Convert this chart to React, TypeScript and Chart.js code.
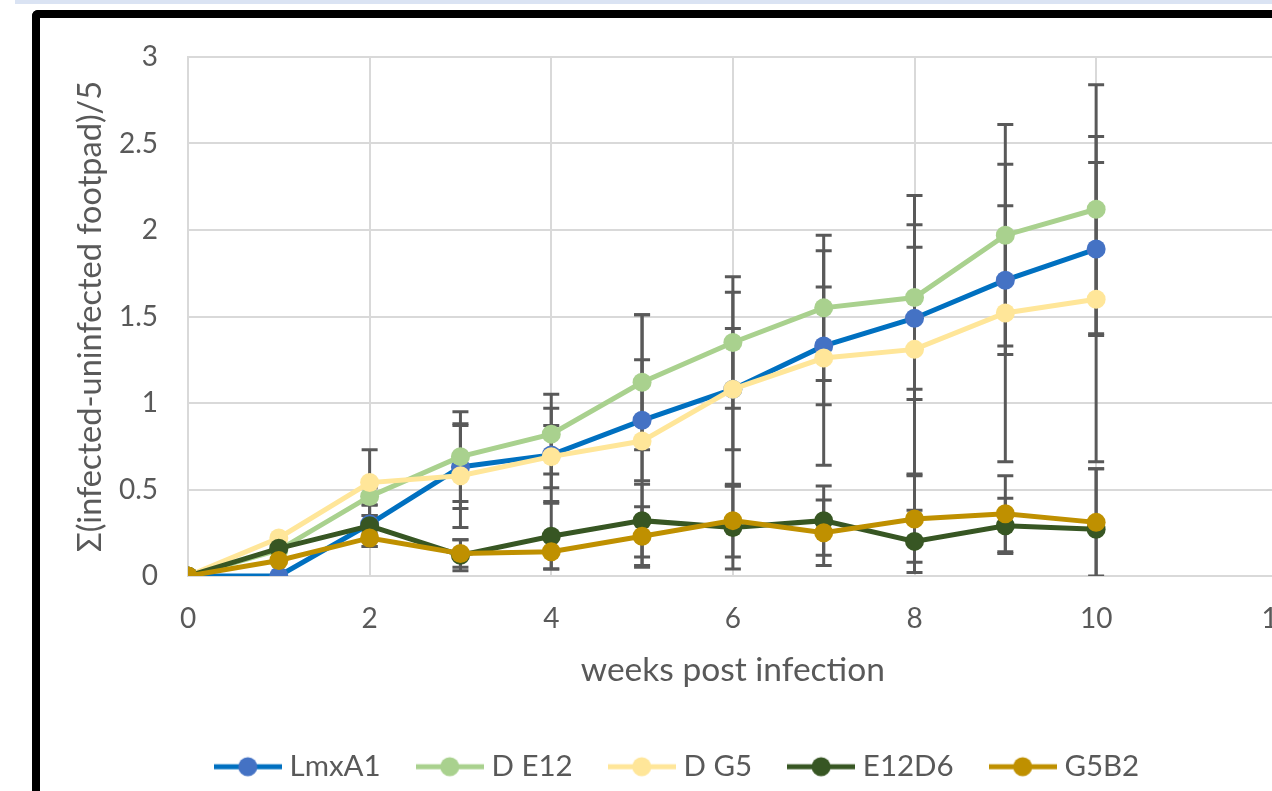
import React, { useEffect, useRef } from "react";
import { Chart, registerables } from "chart.js";

Chart.register(...registerables);

const weeks = [0, 1, 2, 3, 4, 5, 6, 7, 8, 9, 10];
const xTicks = [0, 2, 4, 6, 8, 10, 12];

const seriesNames = ["LmxA1", "D E12", "D G5", "E12D6", "G5B2"];

const lmxA1 = [0, 0, 0.30, 0.63, 0.70, 0.90, 1.08, 1.33, 1.49, 1.71, 1.89];
const dE12 = [0, 0.15, 0.46, 0.69, 0.82, 1.12, 1.35, 1.55, 1.61, 1.97, 2.12];
const dG5 = [0, 0.22, 0.54, 0.58, 0.69, 0.78, 1.08, 1.26, 1.31, 1.52, 1.60];
const e12D6 = [0, 0.16, 0.29, 0.12, 0.23, 0.32, 0.28, 0.32, 0.20, 0.29, 0.27];
const g5B2 = [0, 0.09, 0.22, 0.13, 0.14, 0.23, 0.32, 0.25, 0.33, 0.36, 0.31];

const lmxA1Err = [0, 0, 0.05, 0.24, 0.27, 0.35, 0.35, 0.34, 0.41, 0.43, 0.50];
const dE12Err = [0, 0, 0.05, 0.26, 0.23, 0.39, 0.38, 0.42, 0.59, 0.64, 0.72];
const dG5Err = [0, 0, 0.19, 0.30, 0.18, 0.73, 0.56, 0.62, 0.72, 0.86, 0.94];
const e12D6Err = [0, 0, 0.12, 0.09, 0.19, 0.21, 0.24, 0.20, 0.18, 0.16, 0.35];
const g5B2Err = [0, 0, 0.05, 0.08, 0.10, 0.17, 0.21, 0.19, 0.25, 0.22, 0.31];

const lineColors = ["#0070C0", "#A9D18E", "#FFE699", "#375623", "#BF9000"];
const markerColors = ["#4472C4", "#A9D18E", "#FFE699", "#375623", "#BF9000"];

const FONT = "Lato";
const TEXT = "#595959";

function makeIcon(line: string, marker: string) {
  const c = document.createElement("canvas");
  c.width = 68;
  c.height = 22;
  const g = c.getContext("2d")!;
  g.strokeStyle = line;
  g.lineWidth = 5;
  g.beginPath();
  g.moveTo(0, 11);
  g.lineTo(68, 11);
  g.stroke();
  g.fillStyle = marker;
  g.beginPath();
  g.arc(34, 11, 9.5, 0, Math.PI * 2);
  g.fill();
  return c;
}

const errorBarPlugin = {
  id: "errorBars",
  beforeDatasetsDraw(chart: any) {
    const { ctx, chartArea, scales } = chart;
    const xs = scales.x;
    const ys = scales.y;
    ctx.save();
    ctx.beginPath();
    ctx.rect(chartArea.left, chartArea.top, chartArea.right - chartArea.left, chartArea.bottom - chartArea.top);
    ctx.clip();
    ctx.strokeStyle = "#595959";
    ctx.lineWidth = 3;
    chart.data.datasets.forEach((ds: any) => {
      const errs: number[] = ds.errors;
      if (!errs) return;
      ds.data.forEach((pt: any, i: number) => {
        const e = errs[i];
        if (!e) return;
        const px = xs.getPixelForValue(pt.x);
        const yT = ys.getPixelForValue(pt.y + e);
        const yB = ys.getPixelForValue(pt.y - e);
        ctx.beginPath();
        ctx.moveTo(px, yT);
        ctx.lineTo(px, yB);
        ctx.moveTo(px - 8, yT);
        ctx.lineTo(px + 8, yT);
        ctx.moveTo(px - 8, yB);
        ctx.lineTo(px + 8, yB);
        ctx.stroke();
      });
    });
    ctx.restore();
  },
};

export default function App() {
  const ref = useRef<HTMLCanvasElement | null>(null);

  useEffect(() => {
    if (!ref.current) return;
    const values = [lmxA1, dE12, dG5, e12D6, g5B2];
    const errors = [lmxA1Err, dE12Err, dG5Err, e12D6Err, g5B2Err];
    const icons = seriesNames.map((_, i) => makeIcon(lineColors[i], markerColors[i]));
    const datasets = seriesNames
      .map((name, i) => ({
        label: name,
        data: weeks.map((w, j) => ({ x: w, y: values[i][j] })),
        errors: errors[i],
        borderColor: lineColors[i],
        backgroundColor: markerColors[i],
        pointBackgroundColor: markerColors[i],
        pointBorderColor: markerColors[i],
        pointBorderWidth: 0,
        pointRadius: 9.5,
        pointHoverRadius: 9.5,
        borderWidth: 5,
        tension: 0,
        seriesIndex: i,
      }))
      .reverse();

    const chart = new Chart(ref.current, {
      type: "line",
      data: { datasets: datasets as any },
      options: {
        animation: false,
        responsive: false,
        devicePixelRatio: 1,
        events: [],
        layout: { padding: { left: 40, right: 40, top: 39, bottom: 16.5 } },
        scales: {
          x: {
            type: "linear",
            min: 0,
            max: 12,
            afterBuildTicks: (scale: any) => {
              scale.ticks = xTicks.map((v) => ({ value: v }));
            },
            afterFit: (scale: any) => {
              scale.height = 134;
            },
            grid: { color: "#d9d9d9", lineWidth: 2, drawTicks: false },
            border: { color: "#d9d9d9", width: 2 },
            ticks: { color: TEXT, font: { family: FONT, size: 28 }, padding: 26, maxRotation: 0 },
            title: {
              display: true,
              text: "weeks post infection",
              color: TEXT,
              font: { family: FONT, size: 33.5, lineHeight: 1.2 },
              padding: { top: 0, bottom: 20 },
            },
          },
          y: {
            min: 0,
            max: 3,
            ticks: {
              stepSize: 0.5,
              color: TEXT,
              font: { family: FONT, size: 28 },
              padding: 30,
              callback: (v: any) => String(Number(v)),
            },
            afterFit: (scale: any) => {
              scale.width = 108;
              scale.paddingTop = 10;
              scale.paddingBottom = 10;
            },
            grid: { color: "#d9d9d9", lineWidth: 2, drawTicks: false },
            border: { color: "#d9d9d9", width: 2 },
            title: {
              display: true,
              text: "Σ(infected-uninfected footpad)/5",
              color: TEXT,
              font: { family: FONT, size: 32.5, lineHeight: 1 },
              padding: { top: -6, bottom: 0 },
            },
          },
        },
        plugins: {
          tooltip: { enabled: false },
          legend: {
            position: "bottom",
            reverse: true,
            labels: {
              color: TEXT,
              font: { family: FONT, size: 29.5 },
              usePointStyle: true,
              pointStyleWidth: 54,
              padding: 42,
              generateLabels: (c: any) => {
                const items = (Chart.defaults.plugins.legend.labels as any).generateLabels(c);
                items.forEach((it: any) => {
                  const ds: any = c.data.datasets[it.datasetIndex];
                  it.pointStyle = icons[ds.seriesIndex];
                });
                return items;
              },
            },
          },
        },
      },
      plugins: [errorBarPlugin],
    });
    return () => chart.destroy();
  }, []);

  return (
    <div
      style={{
        position: "fixed",
        left: 0,
        top: 0,
        width: 1272,
        height: 791,
        overflow: "hidden",
        background: "#ffffff",
      }}
    >
      <div
        style={{
          position: "absolute",
          left: 15,
          top: 0,
          width: 1257,
          height: 4,
          background: "#dae3f3",
        }}
      />
      <div
        style={{
          position: "absolute",
          left: 32,
          top: 10,
          width: 1400,
          height: 900,
          borderLeft: "8px solid #000",
          borderTop: "8px solid #000",
          borderTopLeftRadius: 6,
          boxSizing: "border-box",
        }}
      />
      <canvas
        ref={ref}
        width={1280}
        height={790}
        style={{ position: "absolute", left: 40, top: 18, display: "block" }}
      />
    </div>
  );
}
